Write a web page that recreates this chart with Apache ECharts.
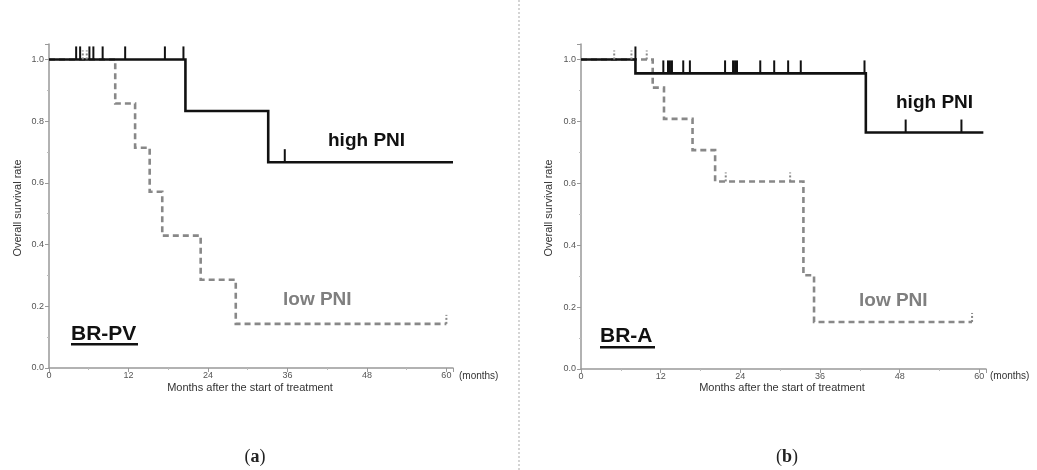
<!DOCTYPE html>
<html>
<head>
<meta charset="utf-8">
<script src="https://cdn.jsdelivr.net/npm/echarts@6/dist/echarts.min.js"></script>
<style>
  html, body { margin: 0; padding: 0; background: #fff; }
  #chart { width: 1037px; height: 470px; }
</style>
</head>
<body>
<div id="chart"></div>
<script>
// panel (a) BR-PV
const aHighTimes = [20.6, 33.1];
const aHighSurv = [0.833, 0.667];
const aHighEnd = 61;
const aHighCensor = [4.1, 4.7, 6.1, 6.7, 8.1, 11.5, 17.5, 20.3, 35.6];

const aLowTimes = [10, 13, 15.2, 17.1, 22.9, 28.2];
const aLowSurv = [0.857, 0.714, 0.571, 0.429, 0.286, 0.143];
const aLowEnd = 60;
const aLowCensor = [5.1, 5.7, 60];

// panel (b) BR-A
const bHighTimes = [8.2, 42.9];
const bHighSurv = [0.955, 0.764];
const bHighEnd = 60.6;
const bHighCensor = [8.2, 12.4, 13.1, 13.4, 13.7, 15.4, 16.4, 21.7, 22.9, 23.2, 23.5, 27.0, 29.1, 31.2, 33.1, 42.7, 48.9, 57.3];

const bLowTimes = [10.8, 12.5, 16.8, 20.2, 33.5, 35.1];
const bLowSurv = [0.909, 0.808, 0.707, 0.606, 0.303, 0.152];
const bLowEnd = 58.9;
const bLowCensor = [5.0, 7.6, 9.9, 21.8, 31.5, 58.9];

const xTicks = [0, 12, 24, 36, 48, 60];

const FONT = 'Liberation Sans';
const BLACK = '#111';
const GRAY = '#888';

function stairs(times, surv, end) {
  const pts = [[0, 1]];
  let prev = 1;
  times.forEach((t, i) => {
    pts.push([t, prev]);
    pts.push([t, surv[i]]);
    prev = surv[i];
  });
  pts.push([end, prev]);
  return pts;
}

function levelAt(times, surv, t) {
  let v = 1;
  times.forEach((tt, i) => { if (tt < t) v = surv[i]; });
  return v;
}

function censorData(times, surv, cens) {
  return cens.map(t => [t, levelAt(times, surv, t)]);
}

function tickSeries(idx, data, color, len, width, dash) {
  return {
    type: 'custom',
    xAxisIndex: idx,
    yAxisIndex: idx,
    data: data,
    silent: true,
    z: 5,
    renderItem: (params, api) => {
      const p = api.coord([api.value(0), api.value(1)]);
      return {
        type: 'line',
        shape: {x1: p[0], y1: p[1], x2: p[0], y2: p[1] - len},
        style: {stroke: color, lineWidth: width, lineDash: dash || null}
      };
    }
  };
}

function lineSeries(idx, data, color, dash) {
  return {
    type: 'line',
    xAxisIndex: idx,
    yAxisIndex: idx,
    data: data,
    symbol: 'none',
    silent: true,
    lineStyle: {color: color, width: 2.6, type: dash ? [6, 4] : 'solid', cap: 'butt', join: 'miter'}
  };
}

function xAxisCfg(idx) {
  return {
    type: 'value',
    gridIndex: idx,
    min: 0,
    max: 61,
    interval: 12,
    axisLine: {show: true, lineStyle: {color: '#999', width: 1.5}},
    axisTick: {show: true, length: 4, lineStyle: {color: '#999'}},
    minorTick: {show: true, splitNumber: 2, length: 2, lineStyle: {color: '#bbb'}},
    splitLine: {show: false},
    axisLabel: {
      color: '#555', fontFamily: FONT, fontSize: 9, margin: 3,
      showMaxLabel: false,
      formatter: v => xTicks.indexOf(v) >= 0 ? String(v) : ''
    }
  };
}

function yAxisCfg(idx) {
  return {
    type: 'value',
    gridIndex: idx,
    min: 0,
    max: 1.05,
    interval: 0.2,
    axisLine: {show: true, lineStyle: {color: '#999', width: 1.5}},
    axisTick: {show: true, length: 4, lineStyle: {color: '#999'}},
    minorTick: {show: true, splitNumber: 2, length: 2, lineStyle: {color: '#bbb'}},
    splitLine: {show: false},
    axisLabel: {
      color: '#555', fontFamily: FONT, fontSize: 9, margin: 5,
      showMaxLabel: false,
      formatter: v => v.toFixed(1)
    }
  };
}

function txt(x, y, text, size, color, weight, align, rotation, family) {
  return {
    type: 'text',
    x: x, y: y,
    rotation: rotation || 0,
    style: {
      text: text, fill: color, fontSize: size, fontWeight: weight || 'normal',
      fontFamily: family || FONT, align: align || 'left', verticalAlign: 'middle'
    }
  };
}

// "(a)" style caption with bold letter
function caption(x, y, letter) {
  return {
    type: 'text',
    x: x, y: y,
    style: {
      text: '(' + '{b|' + letter + '})',
      fill: '#222', fontSize: 18, fontFamily: 'Liberation Serif',
      align: 'center', verticalAlign: 'middle',
      rich: {b: {fontWeight: 'bold', fontSize: 18, fontFamily: 'Liberation Serif', fill: '#222'}}
    }
  };
}

const chart = echarts.init(document.getElementById('chart'));

chart.setOption({
  animation: false,
  backgroundColor: '#fff',
  grid: [
    {left: 49, top: 44, width: 404, height: 324},
    {left: 581, top: 44, width: 405, height: 325}
  ],
  xAxis: [xAxisCfg(0), xAxisCfg(1)],
  yAxis: [yAxisCfg(0), yAxisCfg(1)],
  series: [
    lineSeries(0, stairs(aLowTimes, aLowSurv, aLowEnd), GRAY, true),
    lineSeries(0, stairs(aHighTimes, aHighSurv, aHighEnd), BLACK, false),
    tickSeries(0, censorData(aHighTimes, aHighSurv, aHighCensor), BLACK, 13, 2),
    tickSeries(0, censorData(aLowTimes, aLowSurv, aLowCensor), GRAY, 9, 2, [2, 2]),
    lineSeries(1, stairs(bLowTimes, bLowSurv, bLowEnd), GRAY, true),
    lineSeries(1, stairs(bHighTimes, bHighSurv, bHighEnd), BLACK, false),
    tickSeries(1, censorData(bHighTimes, bHighSurv, bHighCensor), BLACK, 13, 2),
    tickSeries(1, censorData(bLowTimes, bLowSurv, bLowCensor), GRAY, 9, 2, [2, 2])
  ],
  graphic: [
    // divider
    {type: 'line', shape: {x1: 519, y1: 0, x2: 519, y2: 470},
      style: {stroke: '#aaa', lineWidth: 1, lineDash: [2, 2]}},
    // panel a
    txt(18, 208, 'Overall survival rate', 11, '#333', 'normal', 'center', Math.PI / 2),
    txt(250, 388, 'Months after the start of treatment', 11, '#333', 'normal', 'center'),
    txt(459, 376, '(months)', 10, '#333'),
    txt(328, 141, 'high PNI', 19, BLACK, 'bold'),
    txt(283, 300, 'low PNI', 19, '#7f7f7f', 'bold'),
    txt(71, 334, 'BR-PV', 21, BLACK, 'bold'),
    {type: 'rect', shape: {x: 71, y: 343, width: 67, height: 2.5}, style: {fill: BLACK}},
    caption(255, 457, 'a'),
    // panel b
    txt(549, 208, 'Overall survival rate', 11, '#333', 'normal', 'center', Math.PI / 2),
    txt(782, 388, 'Months after the start of treatment', 11, '#333', 'normal', 'center'),
    txt(990, 376, '(months)', 10, '#333'),
    txt(896, 103, 'high PNI', 19, BLACK, 'bold'),
    txt(859, 301, 'low PNI', 19, '#7f7f7f', 'bold'),
    txt(600, 336, 'BR-A', 21, BLACK, 'bold'),
    {type: 'rect', shape: {x: 600, y: 346, width: 55, height: 2.5}, style: {fill: BLACK}},
    caption(787, 457, 'b')
  ]
});
</script>
</body>
</html>
